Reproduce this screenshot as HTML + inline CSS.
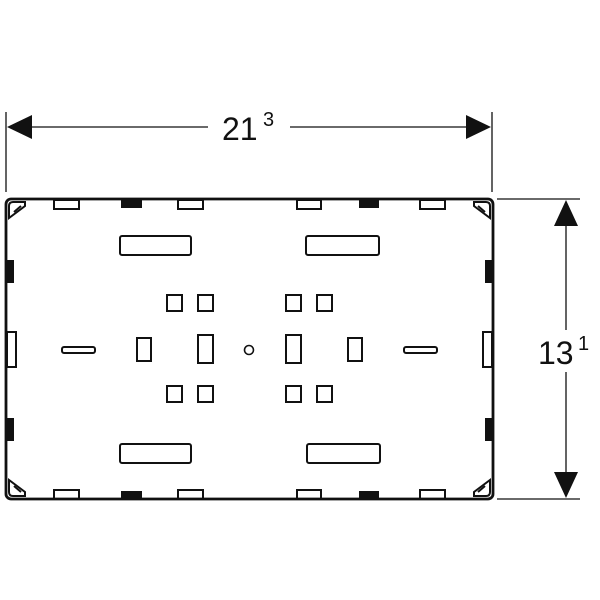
<!DOCTYPE html>
<html><head><style>body{margin:0;background:#fff}svg{display:block}</style></head><body>
<svg width="600" height="600" viewBox="0 0 600 600" xmlns="http://www.w3.org/2000/svg">
<g stroke="#111" fill="none" stroke-width="1.3">
<line x1="6" y1="112" x2="6" y2="192"/><line x1="492" y1="112" x2="492" y2="192"/>
<line x1="30" y1="127" x2="208" y2="127"/><line x1="290" y1="127" x2="468" y2="127"/>
<line x1="497" y1="199" x2="580" y2="199"/><line x1="497" y1="499" x2="580" y2="499"/>
<line x1="566" y1="224" x2="566" y2="330"/><line x1="566" y1="372" x2="566" y2="474"/>
</g>
<g fill="#111">
<polygon points="7,127 32,115 32,139"/><polygon points="491,127 466,115 466,139"/>
<polygon points="566,200 554,226 578,226"/><polygon points="566,498 554,472 578,472"/>
</g>
<text x="222" y="140" font-family="Liberation Sans, sans-serif" font-size="32" fill="#111">21</text>
<text x="263" y="126" font-family="Liberation Sans, sans-serif" font-size="20" fill="#111">3</text>
<text x="538" y="364" font-family="Liberation Sans, sans-serif" font-size="32" fill="#111">13</text>
<text x="578" y="350" font-family="Liberation Sans, sans-serif" font-size="20" fill="#111">1</text>
<rect x="6" y="199" width="487" height="300" rx="5" fill="none" stroke="#111" stroke-width="2.8"/>
<g fill="none" stroke="#111" stroke-width="2">
<path d="M9,218 L9,206 Q9,202 13,202 L25,202 L25,206 Z"/><path d="M14,212 L21,206"/>
<path d="M490,218 L490,206 Q490,202 486,202 L474,202 L474,206 Z"/><path d="M485,212 L478,206"/>
<path d="M9,480 L9,492 Q9,496 13,496 L25,496 L25,492 Z"/><path d="M14,486 L21,492"/>
<path d="M490,480 L490,492 Q490,496 486,496 L474,496 L474,492 Z"/><path d="M485,486 L478,492"/>
<rect x="54" y="200" width="25" height="9"/><rect x="178" y="200" width="25" height="9"/><rect x="297" y="200" width="24" height="9"/><rect x="420" y="200" width="25" height="9"/>
<rect x="54" y="490" width="25" height="9"/><rect x="178" y="490" width="25" height="9"/><rect x="297" y="490" width="24" height="9"/><rect x="420" y="490" width="25" height="9"/>
<rect x="7" y="332" width="9" height="35"/><rect x="483" y="332" width="9" height="35"/>
<rect x="120" y="236" width="71" height="19" rx="2"/><rect x="306" y="236" width="73" height="19" rx="2"/>
<rect x="120" y="444" width="71" height="19" rx="2"/><rect x="307" y="444" width="73" height="19" rx="2"/>
<rect x="62" y="347" width="33" height="6" rx="2"/><rect x="404" y="347" width="33" height="6" rx="2"/>
<rect x="167" y="295" width="15" height="16"/><rect x="198" y="295" width="15" height="16"/><rect x="286" y="295" width="15" height="16"/><rect x="317" y="295" width="15" height="16"/>
<rect x="167" y="386" width="15" height="16"/><rect x="198" y="386" width="15" height="16"/><rect x="286" y="386" width="15" height="16"/><rect x="317" y="386" width="15" height="16"/>
<rect x="137" y="338" width="14" height="23"/><rect x="198" y="335" width="15" height="28"/><rect x="286" y="335" width="15" height="28"/><rect x="348" y="338" width="14" height="23"/>
<circle cx="249" cy="350" r="4.5" stroke-width="1.6"/>
</g>
<g fill="#111">
<rect x="121" y="200" width="21" height="8"/><rect x="359" y="200" width="20" height="8"/>
<rect x="121" y="491" width="21" height="8"/><rect x="359" y="491" width="20" height="8"/>
<rect x="6" y="260" width="8" height="23"/><rect x="6" y="418" width="8" height="23"/>
<rect x="485" y="260" width="8" height="23"/><rect x="485" y="418" width="8" height="23"/>
</g>
</svg>
</body></html>
